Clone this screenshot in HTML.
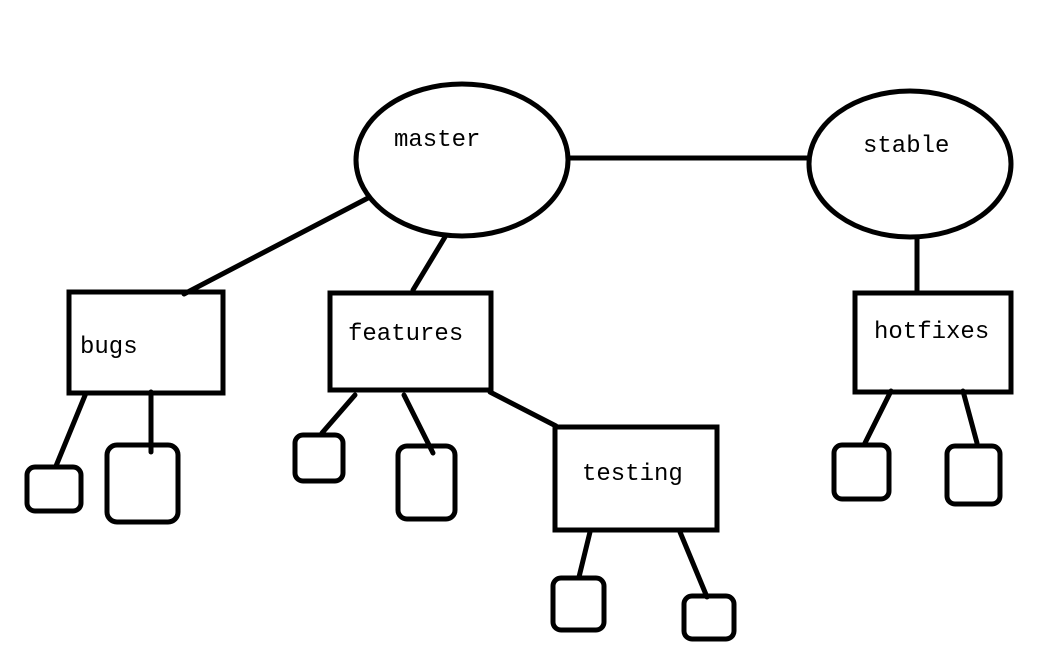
<!DOCTYPE html>
<html><head><meta charset="utf-8"><style>
html,body{margin:0;padding:0;background:#fff;width:1041px;height:645px;overflow:hidden}
text{font-family:"Liberation Mono","DejaVu Sans Mono",monospace;font-size:24px;fill:#000}
</style></head><body>
<svg width="1041" height="645" viewBox="0 0 1041 645" xmlns="http://www.w3.org/2000/svg">
<g fill="none" stroke="#000" stroke-width="5" stroke-linecap="round">
<ellipse cx="462" cy="160" rx="106" ry="76"/>
<ellipse cx="910" cy="164" rx="101" ry="73"/>
<line x1="569" y1="158" x2="808" y2="158"/>
<line x1="368" y1="198" x2="184" y2="294"/>
<line x1="445" y1="237" x2="413" y2="290"/>
<line x1="917" y1="238" x2="917" y2="291"/>
<rect x="69" y="292" width="154" height="101" stroke-linecap="butt"/>
<rect x="330" y="293" width="161" height="97" stroke-linecap="butt"/>
<rect x="855" y="293" width="156" height="99" stroke-linecap="butt"/>
<rect x="555" y="427" width="162" height="103" stroke-linecap="butt"/>
<line x1="490" y1="392" x2="556" y2="426"/>
<line x1="86" y1="393" x2="56" y2="466"/>
<rect x="27" y="467" width="54" height="44" rx="8"/>
<line x1="151" y1="392" x2="151" y2="452"/>
<rect x="107" y="445" width="71" height="77" rx="10"/>
<line x1="355" y1="395" x2="322" y2="433"/>
<rect x="295" y="435" width="48" height="46" rx="8"/>
<line x1="404" y1="395" x2="433" y2="453"/>
<rect x="398" y="446" width="57" height="73" rx="9"/>
<line x1="590" y1="532" x2="579" y2="577"/>
<rect x="553" y="578" width="51" height="52" rx="8"/>
<line x1="680" y1="532" x2="707" y2="597"/>
<rect x="684" y="596" width="50" height="43" rx="8"/>
<line x1="891" y1="391" x2="865" y2="443"/>
<rect x="834" y="445" width="55" height="54" rx="8"/>
<line x1="963" y1="391" x2="977" y2="443"/>
<rect x="947" y="446" width="53" height="58" rx="8"/>
</g>
<text x="394" y="146">master</text>
<text x="863" y="152">stable</text>
<text x="80" y="353">bugs</text>
<text x="348" y="340">features</text>
<text x="874" y="338">hotfixes</text>
<text x="582" y="480">testing</text>
</svg>
</body></html>
